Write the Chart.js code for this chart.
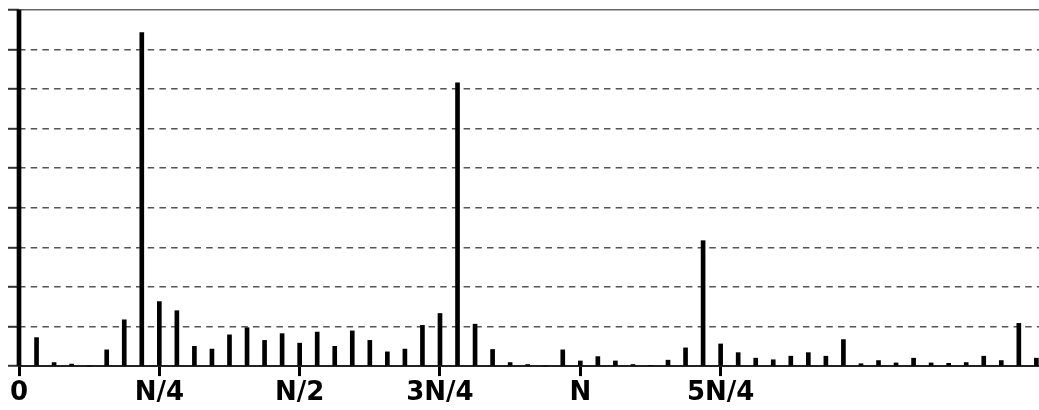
<!DOCTYPE html>
<html>
<head>
<meta charset="utf-8">
<title>Spectrum</title>
<script src="https://cdn.jsdelivr.net/npm/chart.js@4.4.1/dist/chart.umd.min.js"></script>
<style>
    html, body { margin: 0; padding: 0; background: #fff; }
    #wrap { width: 1039px; height: 410px; position: relative; }
</style>
</head>
<body>
<div id="wrap"><canvas id="spectrumChart"></canvas></div>
<script>
// magnitudes per bin (bin 0 goes up to the frame)
var magnitudes = [
    9.00, 0.72, 0.09, 0.05, 0.00, 0.41, 1.17, 8.43, 1.63, 1.40,
    0.50, 0.43, 0.79, 0.97, 0.65, 0.82, 0.58, 0.86, 0.50, 0.89,
    0.65, 0.36, 0.43, 1.03, 1.33, 7.16, 1.06, 0.42, 0.09, 0.04,
    0.00, 0.41, 0.13, 0.24, 0.13, 0.04, 0.02, 0.15, 0.46, 3.17,
    0.56, 0.34, 0.20, 0.16, 0.25, 0.34, 0.25, 0.67, 0.06, 0.14,
    0.08, 0.20, 0.08, 0.07, 0.09, 0.25, 0.14, 1.08, 0.20
];

// x axis labels
var tickPositions = [0, 8, 16, 24, 32, 40];
var tickLabels = ['0', 'N/4', 'N/2', '3N/4', 'N', '5N/4'];

var yMax = 9;
var xMax = 58.15;

document.addEventListener('DOMContentLoaded', function() {
    var ctx = document.getElementById('spectrumChart').getContext('2d');

    var chart = new Chart(ctx, {
        type: 'bar',
        data: {
            datasets: [{
                data: magnitudes.map(function(v, i) { return { x: i, y: v }; }),
                backgroundColor: '#000',
                borderWidth: 0,
                barThickness: 4,
                clip: false
            }]
        },
        options: {
            responsive: true,
            maintainAspectRatio: false,
            animation: false,
            layout: {
                padding: { left: 8, right: 0, top: 10, bottom: 0 }
            },
            plugins: {
                legend: { display: false },
                tooltip: { enabled: false }
            },
            scales: {
                x: {
                    type: 'linear',
                    min: 0,
                    max: xMax,
                    offset: false,
                    afterBuildTicks: function(scale) {
                        scale.ticks = tickPositions.map(function(v) { return { value: v }; });
                    },
                    ticks: {
                        autoSkip: false,
                        maxRotation: 0,
                        padding: 2,
                        color: '#000',
                        font: { family: 'DejaVu Sans', size: 26, weight: 'bold', lineHeight: 1.15 },
                        callback: function(value) {
                            var k = tickPositions.indexOf(value);
                            return k >= 0 ? tickLabels[k] : '';
                        }
                    },
                    grid: {
                        offset: false,
                        drawOnChartArea: false,
                        drawTicks: true,
                        tickLength: 10,
                        tickWidth: 3,
                        tickColor: '#000'
                    },
                    border: {
                        display: true,
                        color: '#222',
                        width: 2
                    }
                },
                y: {
                    min: 0,
                    max: yMax,
                    ticks: {
                        display: false,
                        stepSize: 1
                    },
                    grid: {
                        drawTicks: true,
                        tickLength: 11,
                        tickWidth: 2,
                        tickColor: '#333',
                        lineWidth: function(c) { return c.tick && c.tick.value === yMax ? 1.5 : 1.6; },
                        color: function(c) { return c.tick && c.tick.value === yMax ? '#666' : '#555'; }
                    },
                    border: {
                        display: false,
                        dash: function(c) {
                            return c.tick && (c.tick.value === yMax || c.tick.value === 0) ? [] : [6.5, 5.2];
                        }
                    }
                }
            }
        }
    });
});
</script>
</body>
</html>
